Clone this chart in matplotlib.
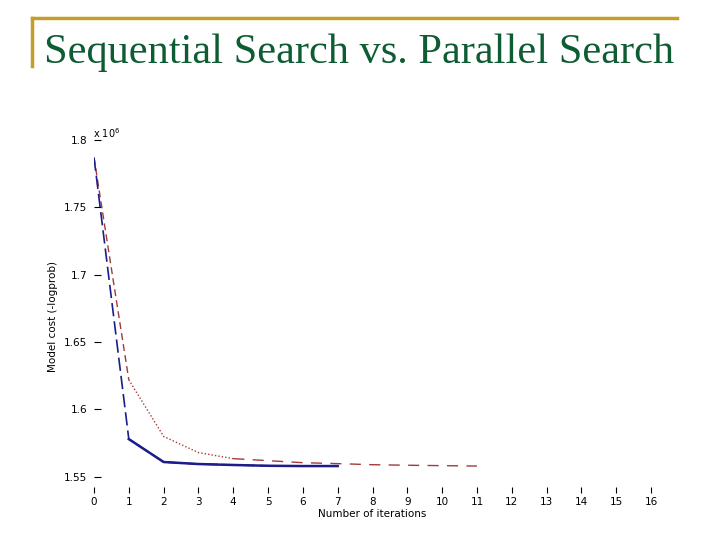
import matplotlib
matplotlib.use("Agg")
import matplotlib.pyplot as plt
from matplotlib.lines import Line2D

# iterations and model cost (x 10^6)
seq_iter = [0, 1, 2, 3, 4, 5, 6, 7, 8, 9, 10, 11]
seq_cost = [1.787, 1.622, 1.580, 1.568, 1.5635, 1.562, 1.5605, 1.5598, 1.559, 1.5586, 1.5583, 1.558]

par_iter = [0, 1, 2, 3, 4, 5, 6, 7]
par_cost = [1.787, 1.578, 1.561, 1.5595, 1.5588, 1.5582, 1.558, 1.558]

xticks = list(range(0, 17))
yticks = [1.55, 1.6, 1.65, 1.7, 1.75, 1.8]
ytick_labels = ["1.55", "1.6", "1.65", "1.7", "1.75", "1.8"]

title = "Sequential Search vs. Parallel Search"

RED = "#a33a3a"
BLUE = "#1c1c8a"
GOLD = "#c49d2e"
GREEN = "#0e5c33"

fig = plt.figure(figsize=(7.2, 5.4), dpi=100)

# slide decoration
fig.add_artist(Line2D([32 / 720, 677 / 720], [1 - 18 / 540, 1 - 18 / 540],
                      color=GOLD, lw=2.5, transform=fig.transFigure))
fig.add_artist(Line2D([32 / 720, 32 / 720], [1 - 18 / 540, 1 - 66 / 540],
                      color=GOLD, lw=2.5, transform=fig.transFigure))
fig.text(44 / 720, 1 - 53 / 540, title, family="Liberation Serif",
         fontsize=30.5, color=GREEN, va="center", ha="left")

ax = fig.add_axes([94 / 720, 1 - 493 / 540, (651 - 94) / 720, (493 - 140) / 540])
for s in ax.spines.values():
    s.set_visible(False)

# sequential search: dashed start, dotted middle, dashed tail
ax.plot(seq_iter[:2], seq_cost[:2], color=RED, lw=1, ls=(0, (5, 3)))
ax.plot(seq_iter[1:5], seq_cost[1:5], color=RED, lw=1, ls=(0, (1, 1.5)))
ax.plot(seq_iter[4:], seq_cost[4:], color=RED, lw=1, ls=(0, (8, 6)))

# parallel search
ax.plot(par_iter, par_cost, color=BLUE, lw=1.2, ls=(0, (8, 3)))
ax.plot(par_iter[1:], par_cost[1:], color=BLUE, lw=1.8)

ax.set_xlim(0, 16)
ax.set_ylim(1.538, 1.8)
ax.set_xticks(xticks)
ax.set_yticks(yticks)
ax.set_yticklabels(ytick_labels)
ax.tick_params(axis="x", direction="in", length=4, width=0.8, pad=3, labelsize=7.5)
ax.tick_params(axis="y", direction="in", length=5, width=0.8, pad=5, labelsize=7.5)
ax.set_xlabel("Number of iterations", fontsize=7.5, labelpad=1)
ax.set_ylabel("Model cost (-logprob)", fontsize=7.5, labelpad=4)
ax.text(-0.001, 1.0, r"x 10$^6$", transform=ax.transAxes, fontsize=7,
        ha="left", va="bottom")

fig.savefig("out.png", dpi=100)
